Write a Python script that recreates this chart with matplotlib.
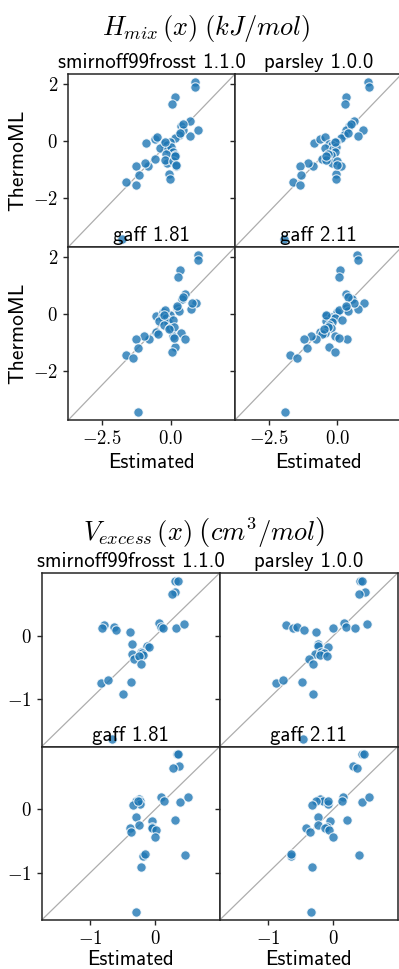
import matplotlib
matplotlib.use("Agg")
import matplotlib.pyplot as plt
from matplotlib.ticker import FuncFormatter, FixedLocator
import numpy as np

plt.rcParams["mathtext.fontset"] = "cm"
plt.rcParams["font.family"] = ["cmss10", "DejaVu Sans"]

# ---------------- data: enthalpy of mixing (kJ/mol) ----------------
h_panels = ["smirnoff99frosst 1.1.0", "parsley 1.0.0", "gaff 1.81", "gaff 2.11"]
h_thermoml = [2.07, 1.89, 1.53, 1.30, 0.69, 0.38, 0.17, 0.52, 0.38, 0.21, 0.10, 0.60,
              -0.04, -0.07, 0.07, 0.14, -0.12, -0.16, -0.27, -0.29, -0.21, -0.39, -0.50,
              -0.47, -0.64, -0.80, -0.68, -0.71, -0.90, -0.88, -0.78, -0.89, -1.19, -1.18,
              -1.34, -1.45, -1.55, -3.46, -0.55, -0.85, -0.05, 0.26]
h_smirnoff = [0.87, 0.89, 0.14, 0.06, 0.69, 0.99, 0.71, 0.39, 0.45, 0.32, 0.17, 0.45,
              -0.04, -0.90, -0.57, -0.50, -0.25, -0.15, -0.39, -0.10, 0.02, 0.08, 0.14,
              -0.18, -0.56, -0.15, -0.21, 0.08, 0.20, -0.83, -0.93, -1.27, -1.14, -0.08,
              -0.03, -1.62, -1.27, -1.76, 0.16, 0.21, -0.20, 0.35]
h_parsley = [1.10, 1.17, 0.31, 0.29, 0.62, 0.94, 0.75, 0.41, 0.31, 0.25, 0.12, 0.50,
             -0.05, -0.84, -0.64, -0.46, -0.30, -0.20, -0.45, -0.15, -0.05, -0.10, -0.25,
             -0.35, -0.55, -0.20, -0.40, 0.00, 0.13, -0.89, -1.07, -1.37, -1.31, -0.05,
             -0.04, -1.62, -1.38, -1.94, -0.42, 0.00, -0.07, 0.38]
h_gaff181 = [1.01, 1.01, 0.33, 0.27, 0.52, 0.92, 0.73, 0.42, 0.77, 0.24, 0.29, 0.45,
             -0.01, -0.54, -0.27, -0.22, -0.30, -0.18, -0.42, -0.10, 0.08, -0.25, -0.02,
             0.12, -0.54, 0.08, 0.36, -0.45, 0.51, -0.80, -0.96, -1.26, -1.18, 0.14,
             0.04, -1.64, -1.38, -1.20, -0.06, 0.12, -0.24, 0.24]
h_gaff211 = [0.73, 0.77, 0.10, 0.05, 0.31, 0.96, 0.75, 0.52, 0.60, 0.30, 0.38, 0.39,
             -0.02, -0.43, 0.00, 0.05, -0.25, -0.10, -0.40, -0.20, 0.15, -0.30, -0.25,
             -0.35, -0.65, -0.10, -0.47, -0.55, 0.35, -0.77, -0.95, -1.22, -1.10, -0.30,
             -0.07, -1.73, -1.46, -1.93, -0.48, 0.05, -0.42, 0.30]

# ---------------- data: excess molar volume (cm^3/mol) ----------------
v_panels = ["smirnoff99frosst 1.1.0", "parsley 1.0.0", "gaff 1.81", "gaff 2.11"]
v_thermoml = [0.87, 0.87, 0.69, 0.66, 0.17, 0.13, 0.14, 0.09, 0.07, 0.20, 0.14, 0.13,
              0.12, 0.19, -0.12, -0.16, -0.18, -0.29, -0.36, -0.25, -0.27, -0.30, -0.32,
              -0.44, -0.74, -0.70, -0.72, -0.91, -1.62]
v_smirnoff = [0.31, 0.36, 0.30, 0.26, -0.78, -0.81, -0.63, -0.60, -0.38, 0.06, 0.09, 0.12,
              0.32, 0.45, -0.35, -0.12, -0.10, -0.36, -0.32, -0.22, -0.20, -0.18, -0.24,
              -0.21, -0.83, -0.73, -0.37, -0.49, -0.67]
v_parsley = [0.41, 0.44, 0.49, 0.40, -0.73, -0.62, -0.55, -0.44, -0.26, 0.17, 0.20, 0.00,
             0.34, 0.52, -0.23, -0.23, -0.08, -0.28, -0.37, -0.18, -0.14, -0.20, -0.10,
             -0.31, -0.88, -0.77, -0.48, -0.31, -0.46]
v_gaff181 = [0.34, 0.36, 0.37, 0.28, -0.25, -0.30, -0.23, -0.23, -0.34, 0.09, 0.13, -0.27,
             0.38, 0.51, -0.30, 0.30, -0.05, -0.38, -0.37, -0.25, -0.05, -0.04, 0.02,
             0.00, -0.19, -0.15, 0.46, -0.22, -0.29]
v_gaff211 = [0.44, 0.48, 0.31, 0.37, -0.20, -0.16, -0.27, -0.08, -0.32, 0.15, 0.14, -0.08,
             0.45, 0.56, -0.23, 0.22, -0.04, -0.41, -0.36, -0.23, -0.10, -0.12, -0.07,
             0.00, -0.65, -0.65, 0.40, -0.33, -0.34]

W, H = 399, 969
fig = plt.figure(figsize=(W / 100, H / 100), dpi=100)

PT = "#1f77b4"
SPINE = "0.15"


def add_ax(x0, y0, w, h):
    return fig.add_axes([x0 / W, 1 - (y0 + h) / H, w / W, h / H])


def draw_group(ytrue, xlists, titles, left, top, cw, rh, suptitle, sup_xy,
               ylabel, xticks, yticks, xfmt, yfmt, xlabelpad):
    allv = np.concatenate([np.asarray(ytrue)] + [np.asarray(x) for x in xlists])
    lo, hi = allv.min(), allv.max()
    m = 0.05 * (hi - lo)
    lims = (lo - m, hi + m)
    for i, (xs, title) in enumerate(zip(xlists, titles)):
        r, c = divmod(i, 2)
        ax = add_ax(left + c * cw, top + r * rh, cw, rh)
        ax.set_facecolor("white")
        ax.plot(lims, lims, color="0.68", lw=0.9, zorder=1)
        ax.scatter(xs, ytrue, s=46, color=PT, alpha=0.8, edgecolor="white",
                   linewidth=0.8, zorder=2)
        ax.set_xlim(lims)
        ax.set_ylim(lims)
        ax.xaxis.set_major_locator(FixedLocator(xticks))
        ax.yaxis.set_major_locator(FixedLocator(yticks))
        ax.xaxis.set_major_formatter(FuncFormatter(lambda v, p, f=xfmt: "$" + format(v, f) + "$"))
        ax.yaxis.set_major_formatter(FuncFormatter(lambda v, p, f=yfmt: "$" + format(v, f) + "$"))
        ax.tick_params(direction="out", length=3.5, width=1.0, color=SPINE,
                       labelsize=13.5, pad=4)
        for sp in ax.spines.values():
            sp.set_color(SPINE)
            sp.set_linewidth(1.1)
        ax.set_title(title, fontsize=15, pad=4)
        if c == 1:
            ax.tick_params(labelleft=False)
        elif ylabel:
            ax.set_ylabel(ylabel, fontsize=15.5, labelpad=4)
        if r == 0:
            ax.tick_params(labelbottom=False)
        else:
            ax.set_xlabel("Estimated", fontsize=15, labelpad=xlabelpad)
    fig.text(sup_xy[0] / W, 1 - sup_xy[1] / H, suptitle, fontsize=19,
             ha="center", va="center")


draw_group(h_thermoml, [h_smirnoff, h_parsley, h_gaff181, h_gaff211], h_panels,
           68.3, 74, 166.7, 173, r"$H_{mix}\,(x)\;(kJ/mol)$", (206, 29),
           "ThermoML", [-2.5, 0.0], [-2, 0, 2], ".1f", ".0f", 3)

draw_group(v_thermoml, [v_smirnoff, v_parsley, v_gaff181, v_gaff211], v_panels,
           41.7, 573, 178, 173.5, r"$V_{excess}\,(x)\;\left(cm^3/mol\right)$", (204, 532),
           None, [-1, 0], [-1, 0], ".0f", ".0f", 1)

fig.savefig("out.png", dpi=100, facecolor="white")
